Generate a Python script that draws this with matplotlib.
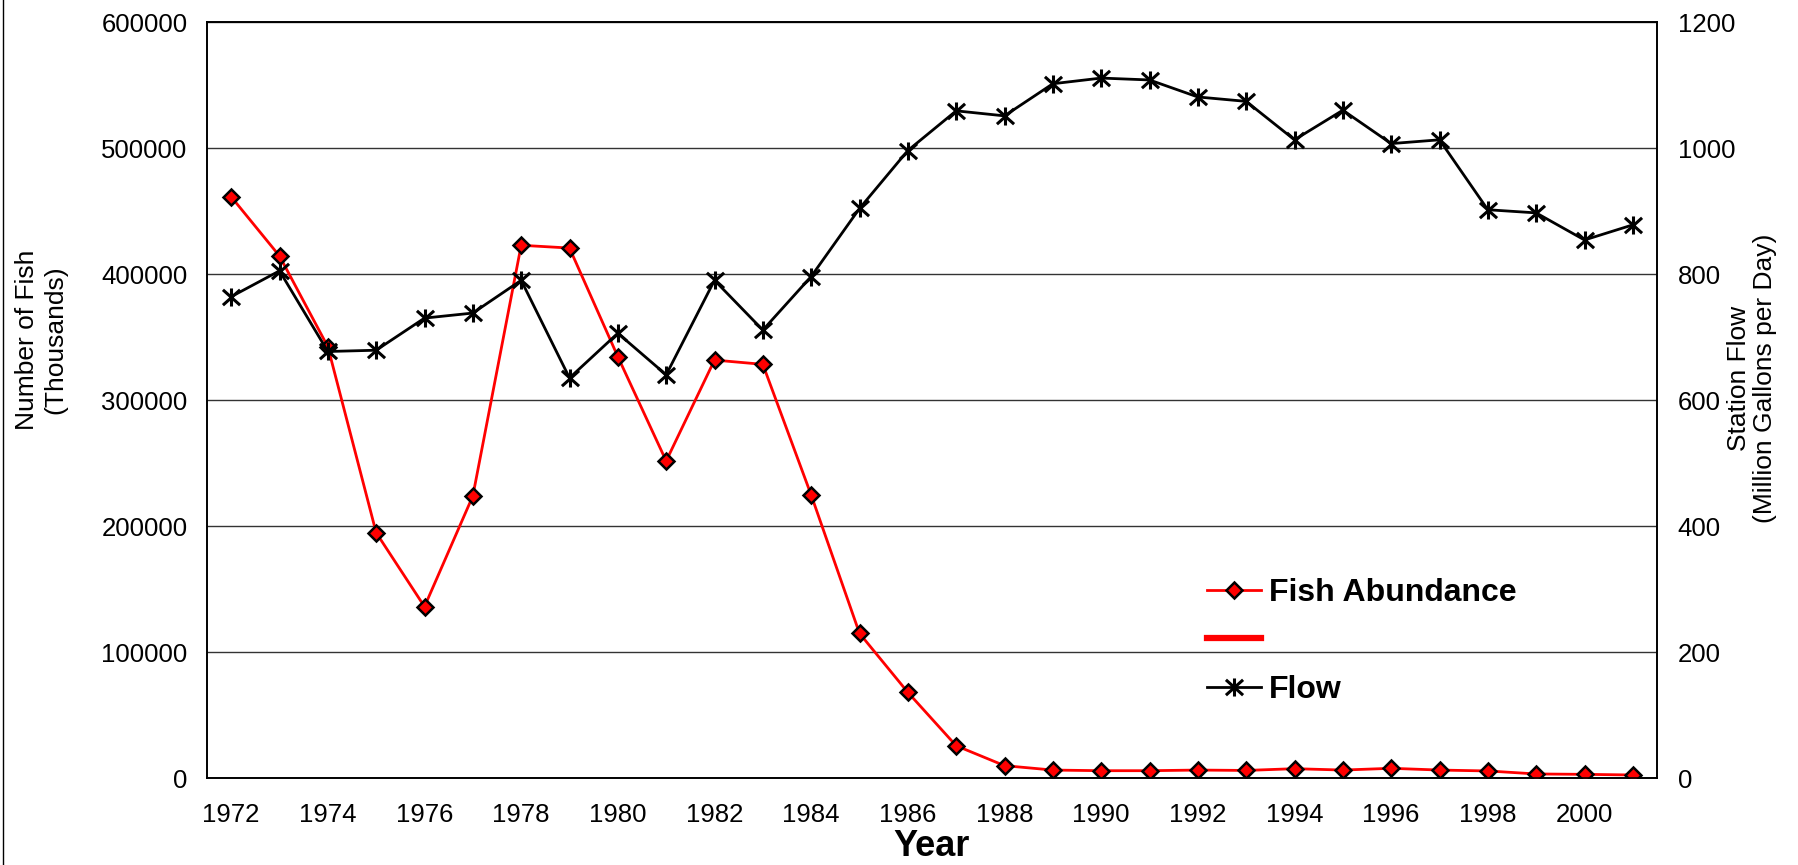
import matplotlib
matplotlib.use('Agg')
import matplotlib.pyplot as plt
from matplotlib.path import Path
from matplotlib.lines import Line2D

plt.rcParams['font.family'] = ['Liberation Sans', 'DejaVu Sans']

years = list(range(1972, 2002))
fish_abundance = [461300, 414300, 342300, 194700, 136000, 223800, 422800, 420600,
                  334400, 251600, 331700, 328300, 224600, 114800, 68000, 25600,
                  9800, 6300, 5800, 5800, 6300, 6000, 7400, 6300, 7700, 6300,
                  5600, 3200, 2900, 2400]
station_flow = [764, 805, 677, 679, 730, 738, 790, 635, 706, 640, 790, 711, 796,
                904, 996, 1059, 1051, 1102, 1111, 1108, 1081, 1074, 1013, 1060,
                1007, 1013, 902, 897, 854, 878]
xtick_years = list(range(1972, 2001, 2))
left_ticks = [0, 100000, 200000, 300000, 400000, 500000, 600000]
right_ticks = [0, 200, 400, 600, 800, 1000, 1200]

W, H = 1799, 865
fig = plt.figure(figsize=(W / 100, H / 100), dpi=100)
L, R, T, B = 207, 1657, 22, 778
ax = fig.add_axes([L / W, (H - B) / H, (R - L) / W, (B - T) / H])
ax2 = ax.twinx()

# asterisk marker (vertical line + X)
star = Path([(0, -1), (0, 1), (-0.95, -0.85), (0.95, 0.85), (-0.95, 0.85), (0.95, -0.85)],
            [Path.MOVETO, Path.LINETO, Path.MOVETO, Path.LINETO, Path.MOVETO, Path.LINETO])

ax.plot(years, fish_abundance, color='#ff0000', lw=2, marker='D', markersize=8.5,
        markerfacecolor='#ff0000', markeredgecolor='black', markeredgewidth=1.8, zorder=3)
ax2.plot(years, station_flow, color='black', lw=2, marker=star, markersize=13,
         markerfacecolor='none', markeredgecolor='black', markeredgewidth=2.2, zorder=3)

ax.set_xlim(1971.5, 2001.5)
ax.set_ylim(0, 600000)
ax2.set_ylim(0, 1200)
ax.set_xticks(xtick_years)
ax.set_xticklabels([str(y) for y in xtick_years])
ax.set_yticks(left_ticks)
ax.set_yticklabels([str(v) for v in left_ticks])
ax2.set_yticks(right_ticks)
ax2.set_yticklabels([str(v) for v in right_ticks])

ax.grid(axis='y', color='#333333', lw=1.0)
ax.set_axisbelow(True)
ax.tick_params(axis='both', length=0, labelsize=18.5)
ax.tick_params(axis='y', pad=14)
ax.tick_params(axis='x', pad=18)
ax2.tick_params(axis='y', length=0, labelsize=18.5, pad=15)
for a in (ax, ax2):
    for s in a.spines.values():
        s.set_color('black')
        s.set_linewidth(1.2)

fig.text(41 / W, 1 - 340 / H, 'Number of Fish\n(Thousands)', rotation=90,
         ha='center', va='center', multialignment='center', fontsize=19, linespacing=1.2)
fig.text(1752 / W, 1 - 378 / H, 'Station Flow\n(Million Gallons per Day)', rotation=90,
         ha='center', va='center', multialignment='center', fontsize=19, linespacing=1.1)
fig.text(932 / W, 1 - 846 / H, 'Year', ha='center', va='center', fontsize=26,
         fontweight='bold')

handles = [
    Line2D([], [], color='#ff0000', lw=2, marker='D', markersize=8.5,
           markerfacecolor='#ff0000', markeredgecolor='black', markeredgewidth=1.8),
    Line2D([], [], color='#ff0000', lw=4.5),
    Line2D([], [], color='black', lw=2, marker=star, markersize=13,
           markerfacecolor='none', markeredgecolor='black', markeredgewidth=2.2),
]
labels = ['Fish Abundance', '', 'Flow']
ax2.legend(handles, labels, loc='upper left', bbox_to_anchor=(1207 / W, 1 - 578 / H),
           bbox_transform=fig.transFigure, frameon=False, borderpad=0, borderaxespad=0,
           handlelength=1.7, handletextpad=0.25, labelspacing=0.58,
           prop={'weight': 'bold', 'size': 23})

fig.add_artist(Line2D([3.5 / W, 3.5 / W], [0, 1], transform=fig.transFigure,
                      color='black', lw=1))

fig.savefig('out.png', dpi=100)
